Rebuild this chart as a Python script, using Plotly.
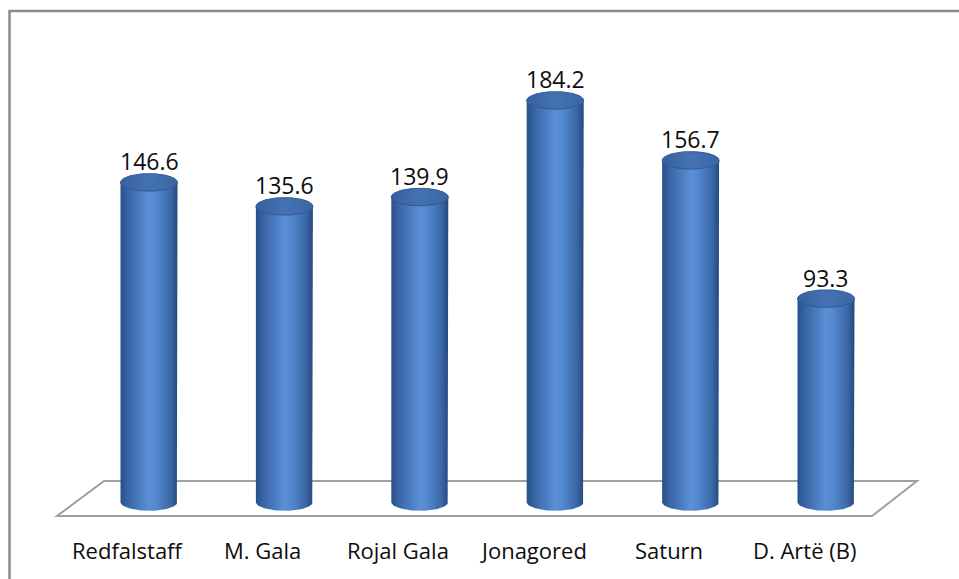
import numpy as np
import plotly.graph_objects as go

categories = ["Redfalstaff", "M. Gala", "Rojal Gala", "Jonagored", "Saturn", "D. Artë (B)"]
values = [146.6, 135.6, 139.9, 184.2, 156.7, 93.3]

W, H = 959, 579
PX_X = 135.4          # pixels per category step
X0_PX = 149           # pixel of first category centre
Y0_PX = 502           # pixel of value 0
PX_Y = 2.18           # pixels per value unit

x_range = [-X0_PX / PX_X, (W - X0_PX) / PX_X]
y_range = [-(H - Y0_PX) / PX_Y, Y0_PX / PX_Y]

RX = 28.5 / PX_X      # cylinder half width in category units
RY = 8.8 / PX_Y       # ellipse half height in value units

body_scale = [[0.0, "#27508a"], [0.12, "#3763a4"], [0.5, "#5a8fd6"],
              [0.62, "#5489d0"], [0.88, "#3a67a6"], [1.0, "#244a7e"]]
top_scale = [[0.0, "#36609e"], [0.5, "#4572b4"], [1.0, "#3a66a4"]]

fig = go.Figure()

t = np.linspace(0, np.pi, 60)
tt = np.linspace(0, 2 * np.pi, 120)
for i, v in enumerate(values):
    xc = i
    bx = [xc - RX, xc - RX, xc + RX] + list(xc + RX * np.cos(t))
    by = [0, v, v] + list(0 - RY * np.sin(t))
    fig.add_trace(go.Scatter(
        x=bx, y=by, mode="lines", fill="toself",
        line=dict(width=0, color="rgba(0,0,0,0)"),
        fillgradient=dict(type="horizontal", colorscale=body_scale,
                          start=xc - RX, stop=xc + RX),
        hoverinfo="skip", showlegend=False))
    fig.add_trace(go.Scatter(
        x=list(xc + RX * np.cos(tt)), y=list(v + RY * np.sin(tt)),
        mode="lines", fill="toself",
        line=dict(width=1, color="#305a94"),
        fillgradient=dict(type="horizontal", colorscale=top_scale,
                          start=xc - RX, stop=xc + RX),
        hoverinfo="skip", showlegend=False))

annotations = []
for i, (c, v) in enumerate(zip(categories, values)):
    annotations.append(dict(
        x=i, y=v, xref="x", yref="y", text=f"{v:.1f}", showarrow=False,
        yshift=21, font=dict(family="Open Sans", size=23, color="#0d0d0d")))
    annotations.append(dict(
        x=i - 22 / PX_X, y=1 - 550 / H, xref="x", yref="paper", text=c,
        showarrow=False, yanchor="middle",
        font=dict(family="Open Sans", size=22, color="#0d0d0d")))


def px(x, y):
    return f"{x / W:.5f},{1 - y / H:.5f}"


shapes = [
    dict(type="path", xref="paper", yref="paper", layer="below",
         path=f"M {px(104,481)} L {px(917,481)} L {px(872,516)} L {px(57,516)} Z",
         line=dict(color="#a0a0a0", width=2)),
    dict(type="path", xref="paper", yref="paper",
         path=f"M {px(9.5,585)} L {px(9.5,11)} L {px(965,11)}",
         line=dict(color="#8c8c8c", width=2.5)),
]

fig.update_layout(
    width=W, height=H,
    margin=dict(l=0, r=0, t=0, b=0, pad=0),
    paper_bgcolor="white", plot_bgcolor="white",
    xaxis=dict(range=x_range, visible=False, fixedrange=True),
    yaxis=dict(range=y_range, visible=False, fixedrange=True),
    annotations=annotations, shapes=shapes,
    showlegend=False,
)

fig.write_html("out.html")
